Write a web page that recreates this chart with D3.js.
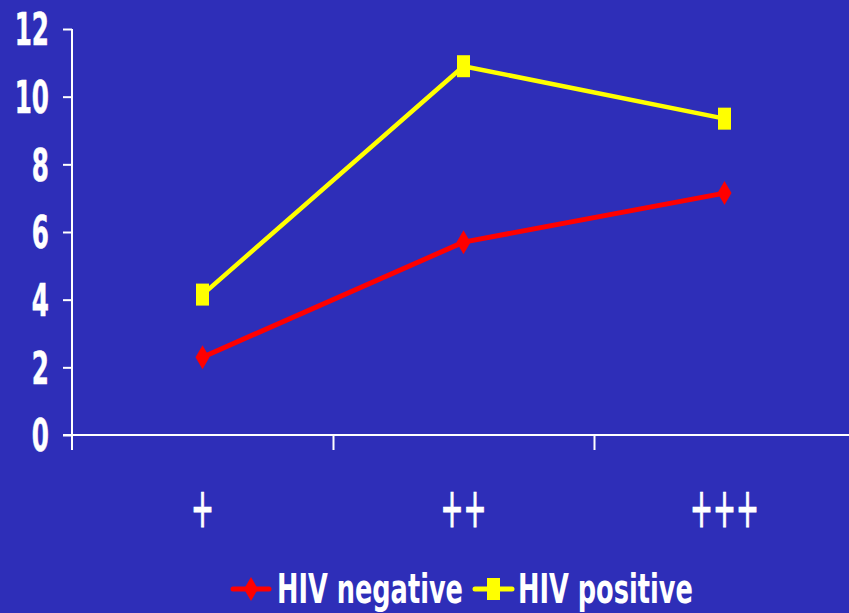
<!DOCTYPE html>
<html>
<head>
<meta charset="utf-8">
<script src="https://cdn.jsdelivr.net/npm/d3@7/dist/d3.min.js"></script>
<style>
  html, body { margin: 0; padding: 0; background: #2E2EB8; }
  svg { display: block; }
</style>
</head>
<body>
<svg id="chart" width="849" height="613"></svg>
<script>
const categories = ["+", "++", "+++"];
const hivNegative = [2.3, 5.7, 7.15];
const hivPositive = [4.15, 10.9, 9.35];
const yTicks = [0, 2, 4, 6, 8, 10, 12];
const seriesNames = ["HIV negative", "HIV positive"];

const W = 849, H = 613;
const bg = "#2E2EB8";
const svg = d3.select("#chart");
svg.append("rect").attr("width", W).attr("height", H).attr("fill", bg);

const x0 = 72, x1 = 855, yTop = 29, yBot = 435;
const x = d3.scaleBand().domain(categories).range([x0, x1]).padding(0);
const xb = d3.scaleLinear().domain([0, categories.length]).range([x0, x1]);
const y = d3.scaleLinear().domain([0, 12]).range([yBot, yTop]);

// Y axis
const yAxis = svg.append("g").attr("transform", `translate(${x0},0)`)
  .call(d3.axisLeft(y).tickValues(yTicks).tickSize(9).tickSizeOuter(0));
yAxis.select(".domain").remove();
yAxis.selectAll(".tick line").attr("stroke", "#fff").attr("stroke-width", 2);
yAxis.selectAll(".tick text")
  .attr("fill", "#fff")
  .attr("font-family", "DejaVu Sans")
  .attr("font-weight", "bold")
  .attr("font-size", 44)
  .attr("text-anchor", "end")
  .attr("x", -23 / 0.56)
  .attr("dy", "0.36em")
  .attr("stroke", "#fff").attr("stroke-width", 0.6)
  .attr("transform", "scale(0.56,1)");
svg.append("line").attr("x1", x0).attr("x2", x0).attr("y1", yTop).attr("y2", 450)
  .attr("stroke", "#fff").attr("stroke-width", 2);

// X axis
const xAxis = svg.append("g").attr("transform", `translate(0,${yBot})`)
  .call(d3.axisBottom(xb).tickValues([1, 2]).tickSize(15).tickSizeOuter(0).tickFormat(""));
xAxis.select(".domain").remove();
xAxis.selectAll(".tick line").attr("stroke", "#fff").attr("stroke-width", 2);
svg.append("line").attr("x1", 63).attr("x2", W).attr("y1", yBot).attr("y2", yBot)
  .attr("stroke", "#fff").attr("stroke-width", 2);

// Category labels
svg.append("g").selectAll("text").data(categories).join("text")
  .attr("transform", d => `translate(${x(d) + x.bandwidth() / 2},527) scale(0.49,1)`)
  .attr("text-anchor", "middle")
  .attr("fill", "#fff")
  .attr("stroke", "#fff").attr("stroke-width", 1.2)
  .attr("font-family", "DejaVu Sans")
  .attr("font-size", 56)
  .text(d => d);

const cx = d => x(d) + x.bandwidth() / 2;
const line = d3.line().x((d, i) => cx(categories[i])).y(d => y(d));

// Series
const series = [
  { name: seriesNames[0], values: hivNegative, color: "#FF0000", width: 5, shape: "diamond" },
  { name: seriesNames[1], values: hivPositive, color: "#FFFF00", width: 4.5, shape: "square" }
];

function marker(g, shape, color) {
  if (shape === "diamond") {
    g.append("path").attr("d", "M0,-12L7,0L0,12L-7,0Z").attr("fill", color);
  } else {
    g.append("rect").attr("x", -6.5).attr("y", -11).attr("width", 13).attr("height", 22).attr("fill", color);
  }
}

series.forEach(s => {
  svg.append("path").datum(s.values).attr("d", line)
    .attr("fill", "none").attr("stroke", s.color).attr("stroke-width", s.width)
    .attr("stroke-linejoin", "round");
  s.values.forEach((v, i) => {
    const g = svg.append("g").attr("transform", `translate(${cx(categories[i])},${y(v)})`);
    marker(g, s.shape, s.color);
  });
});

// Legend
const legend = [
  { s: series[0], lx1: 233, lx2: 269, tx: 277, tl: 186 },
  { s: series[1], lx1: 475, lx2: 512, tx: 518, tl: 175 }
];
legend.forEach(l => {
  svg.append("line").attr("x1", l.lx1).attr("x2", l.lx2).attr("y1", 589).attr("y2", 589)
    .attr("stroke", l.s.color).attr("stroke-width", 5).attr("stroke-linecap", "round");
  const g = svg.append("g").attr("transform", `translate(${(l.lx1 + l.lx2) / 2},589)`);
  marker(g, l.s.shape, l.s.color);
  const t = svg.append("text").attr("x", 0).attr("y", 0)
    .attr("fill", "#fff").attr("font-family", "DejaVu Sans").attr("font-weight", "bold")
    .attr("font-size", 40)
    .text(l.s.name);
  const w = t.node().getComputedTextLength();
  t.attr("transform", `translate(${l.tx},603) scale(${l.tl / w},1)`);
});
</script>
</body>
</html>
